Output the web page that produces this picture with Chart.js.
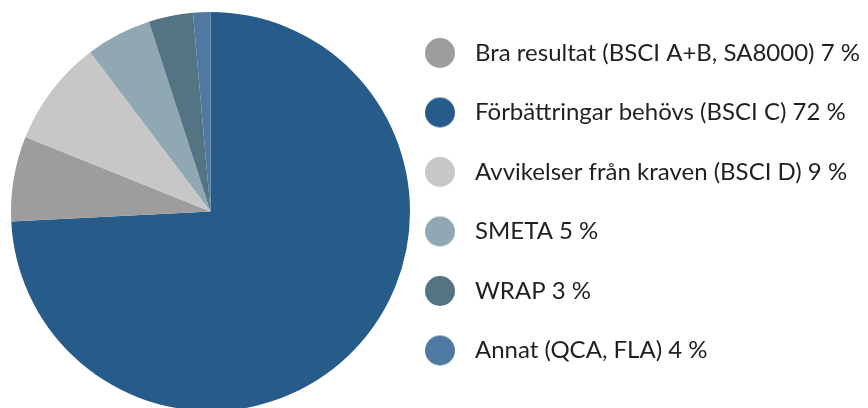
<!DOCTYPE html>
<html>
<head>
<meta charset="utf-8">
<script src="https://cdn.jsdelivr.net/npm/chart.js@4/dist/chart.umd.min.js"></script>
<style>
  html, body { margin: 0; padding: 0; background: #ffffff; overflow: hidden; }
  #wrap { position: relative; width: 900px; height: 424px; }
</style>
</head>
<body>
<div id="wrap"><canvas id="c"></canvas></div>
<script>
// Data in pie (clockwise from top) order
const categories = [
  "Förbättringar behövs (BSCI C)",
  "Bra resultat (BSCI A+B, SA8000)",
  "Avvikelser från kraven (BSCI D)",
  "SMETA",
  "WRAP",
  "Annat (QCA, FLA)"
];
const statedPercent = [72, 7, 9, 5, 3, 4];
const sliceValues = [74.2, 6.9, 8.6, 5.3, 3.6, 1.4];
const colors = ["#265b8a", "#9e9c9d", "#c7c7c7", "#90a8b4", "#547483", "#4f79a3"];
const legendOrder = [1, 0, 2, 3, 4, 5];

const labels = categories.map((c, i) => c + " " + statedPercent[i] + " %");

const WRAP_W = 900;
const FONT_SIZE = 24;
const FONT_FAMILY = "Lato";
const LEGEND_PAD = 35.5;
const LEGEND_LEFT = 403.5;

function makeDot(color) {
  const cv = document.createElement("canvas");
  cv.width = 60; cv.height = 32;
  const g = cv.getContext("2d");
  g.fillStyle = color;
  g.beginPath();
  g.arc(19, 16, 15, 0, Math.PI * 2);
  g.fill();
  return cv;
}

const chart = new Chart(document.getElementById("c"), {
  type: "pie",
  data: {
    labels: labels,
    datasets: [{
      data: sliceValues,
      backgroundColor: colors,
      borderWidth: 0
    }]
  },
  options: {
    responsive: true,
    maintainAspectRatio: false,
    animation: false,
    radius: 199.5,
    layout: { padding: { top: 5.5, bottom: 6.5, left: 17.5, right: 20 } },
    plugins: {
      tooltip: { enabled: false },
      legend: {
        position: "right",
        align: "start",
        maxWidth: 640,
        labels: {
          usePointStyle: true,
          boxWidth: 24,
          boxHeight: 24,
          padding: LEGEND_PAD,
          color: "#231f20",
          font: { family: FONT_FAMILY, size: FONT_SIZE, weight: "normal" },
          sort: (a, b) => legendOrder.indexOf(a.index) - legendOrder.indexOf(b.index),
          generateLabels: (c) => {
            const items = Chart.overrides.pie.plugins.legend.labels.generateLabels(c);
            items.forEach(it => { it.pointStyle = makeDot(it.fillStyle); it.lineWidth = 0; });
            return items;
          }
        }
      }
    }
  }
});

// place the legend so its left edge sits at LEGEND_LEFT
const lw = chart.legend.width;
chart.options.layout.padding.right = Math.max(0, WRAP_W - LEGEND_LEFT - lw);
chart.update();
</script>
</body>
</html>
